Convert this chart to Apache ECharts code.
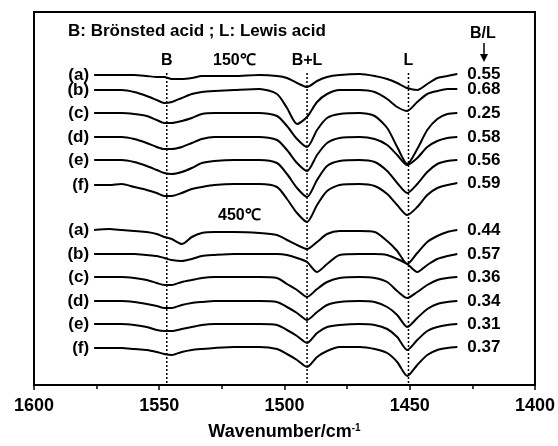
<!DOCTYPE html>
<html>
<head>
<meta charset="utf-8">
<script src="https://cdn.jsdelivr.net/npm/echarts@6/dist/echarts.min.js"></script>
<style>
html, body { margin: 0; padding: 0; background: #fff; }
#chart { width: 558px; height: 446px; }
</style>
</head>
<body>
<div id="chart"></div>
<script>
// wavenumber points (cm-1)
const wavenumbers = [1576, 1570, 1565, 1560, 1555, 1551, 1548, 1545, 1541, 1537, 1533, 1528, 1520, 1510, 1503, 1499, 1495, 1491, 1487, 1483, 1478, 1470, 1464, 1459, 1455, 1451, 1447, 1443, 1439, 1435, 1431]
const sampleNames = ['(a)', '(b)', '(c)', '(d)', '(e)', '(f)']

// vertical offsets of the stacked spectra (a.u.)
const offsets150 = [310, 295, 272, 248, 225, 201]
const offsets450 = [155, 131, 108, 84, 61, 37]

// B/L ratios printed at the right end
const ratio150 = ['0.55', '0.68', '0.25', '0.58', '0.56', '0.59']
const ratio450 = ['0.44', '0.57', '0.36', '0.34', '0.31', '0.37']

// band depth below each baseline, 150 ℃
const dip150a = [0, 0, 0, 0, 1, 2, 2, 4, 4, 3, 1, 1, 1, 0, 1, 3, 8, 12, 6, 2, 0, -1, 1, 4, 8, 13, 15, 9, 3, 1, -1]
const dip150b = [0, 0, 0, 2, 6, 10, 13, 12, 8, 4, 2, 1, 0, -1, 4, 18, 34, 27, 12, 4, 0, 0, 2, 9, 17, 21, 12, 4, 1, -1, -1]
const dip150c = [0, 0, 0, 1, 3, 7, 10, 10, 8, 5, 1, 0, 0, 0, 3, 13, 26, 34, 17, 5, 1, 0, 3, 15, 34, 51, 36, 17, 6, 1, 0]
const dip150d = [0, 0, 0, 2, 6, 10, 12, 12, 10, 6, 2, 0, 0, 0, 3, 13, 26, 34, 18, 6, 1, 0, 2, 8, 18, 28, 21, 10, 4, 1, 0]
const dip150e = [0, 0, 0, 2, 6, 10, 13, 14, 12, 8, 3, 1, 0, 0, 3, 14, 28, 37, 20, 6, 1, 0, 2, 11, 23, 33, 24, 12, 4, 1, 0]
const dip150f = [1, 1, 0, 3, 6, 9, 12, 12, 9, 5, 3, 1, 0, 0, 3, 15, 29, 38, 21, 7, 1, 0, 2, 10, 21, 31, 23, 11, 4, 1, -1]

// band depth below each baseline, 450 ℃
const dip450a = [0, -1, 0, 1, 2, 4, 7, 9, 14, 7, 3, 2, 2, 3, 5, 10, 15, 19, 12, 4, 1, 1, 2, 11, 21, 34, 23, 12, 6, 2, 0]
const dip450b = [0, 0, 0, 0, 1, 2, 4, 6, 7, 5, 2, 1, 0, 0, 0, 1, 4, 8, 18, 10, 1, 0, 0, 1, 5, 10, 18, 11, 5, 2, 0]
const dip450c = [0, 0, 0, 1, 3, 6, 8, 8, 5, 3, 1, 0, 0, 0, 1, 7, 13, 20, 12, 5, 1, 0, 1, 5, 14, 21, 15, 8, 3, 1, 0]
const dip450d = [0, 0, 0, 1, 3, 5, 7, 7, 4, 2, 1, 0, 0, 0, 1, 6, 12, 19, 11, 4, 1, 0, 1, 6, 14, 26, 17, 8, 3, 1, 0]
const dip450e = [0, 0, 0, 1, 3, 6, 7, 7, 5, 3, 1, 0, 0, 0, 1, 6, 12, 19, 9, 3, 1, 0, 1, 5, 13, 26, 16, 7, 3, 1, 0]
const dip450f = [0, 0, 0, 1, 2, 4, 6, 7, 4, 2, 1, 0, -1, -1, 1, 6, 12, 19, 9, 3, -1, -1, 1, 5, 14, 28, 17, 7, 2, 0, -1]

// band marker lines
const bandPositions = [1547, 1491, 1450.5]
const bandNames = ['B', 'B+L', 'L']
const bandTop = 312

const dips150 = [dip150a, dip150b, dip150c, dip150d, dip150e, dip150f]
const dips450 = [dip450a, dip450b, dip450c, dip450d, dip450e, dip450f]

const font = 'Liberation Sans, Arial, sans-serif'
const labelStyle = { color: '#000', fontSize: 17, fontWeight: 'bold', fontFamily: font }

function spectrum(name, offset, dips, ratio) {
  const data = wavenumbers.map((w, i) => [w, offset - dips[i]])
  const last = data.length - 1
  // sample name on the left end, B/L ratio on the right end
  data[0] = { value: data[0], label: Object.assign({ show: true, position: 'left', distance: 5, formatter: name }, labelStyle) }
  data[last] = { value: data[last], label: Object.assign({ show: true, position: 'right', distance: 10, formatter: ratio }, labelStyle) }
  return {
    type: 'line',
    data: data,
    smooth: 0.25,
    symbol: 'circle',
    symbolSize: 0,
    showSymbol: true,
    lineStyle: { color: '#000', width: 2 },
    itemStyle: { color: '#000' },
    silent: true,
    z: 3
  }
}

const series = []
sampleNames.forEach((n, i) => series.push(spectrum(n, offsets150[i], dips150[i], ratio150[i])))
sampleNames.forEach((n, i) => series.push(spectrum(n, offsets450[i], dips450[i], ratio450[i])))

bandPositions.forEach((w, i) => {
  series.push({
    type: 'line',
    data: [
      { value: [w, bandTop], label: { show: true, position: 'top', distance: 4, formatter: bandNames[i], color: '#000', fontSize: 16, fontWeight: 'bold', fontFamily: font } },
      [w, 0]
    ],
    symbol: 'circle',
    symbolSize: 0,
    lineStyle: { color: '#000', width: 1.5, type: [2, 2] },
    itemStyle: { color: '#000' },
    silent: true,
    z: 2
  })
})

const chart = echarts.init(document.getElementById('chart'))

chart.setOption({
  animation: false,
  grid: { left: 34, right: 21, top: 12, bottom: 61, show: true, borderColor: '#000', borderWidth: 2 },
  xAxis: {
    type: 'value',
    min: 1400,
    max: 1600,
    interval: 50,
    inverse: true,
    axisLine: { lineStyle: { color: '#000', width: 2 } },
    axisTick: { length: 5, lineStyle: { color: '#000', width: 1.5 } },
    minorTick: { show: true, splitNumber: 2, length: 4, lineStyle: { color: '#000', width: 1.5 } },
    splitLine: { show: false },
    axisLabel: { color: '#000', fontSize: 18, fontWeight: 'bold', fontFamily: font, margin: 12, formatter: (v) => String(v) },
    name: 'Wavenumber/cm{sup|-1}',
    nameLocation: 'middle',
    nameGap: 38,
    nameTextStyle: {
      color: '#000', fontSize: 18, fontWeight: 'bold', fontFamily: font,
      rich: { sup: { fontSize: 10, fontWeight: 'bold', verticalAlign: 'top', color: '#000', fontFamily: font } }
    }
  },
  yAxis: {
    type: 'value',
    min: 0,
    max: 373,
    axisLine: { show: true, lineStyle: { color: '#000', width: 2 } },
    axisTick: { show: false },
    axisLabel: { show: false },
    splitLine: { show: false }
  },
  graphic: [
    { type: 'text', left: 68, top: 23, style: { text: 'B: Brönsted acid ; L: Lewis acid', font: 'bold 17px ' + font, fill: '#000' } },
    { type: 'text', left: 213, top: 53, style: { text: '150℃', font: 'bold 16px ' + font, fill: '#000' } },
    { type: 'text', left: 218, top: 208, style: { text: '450℃', font: 'bold 16px ' + font, fill: '#000' } },
    { type: 'text', left: 470, top: 26, style: { text: 'B/L', font: 'bold 16px ' + font, fill: '#000' } },
    { type: 'line', shape: { x1: 484, y1: 43, x2: 484, y2: 56 }, style: { stroke: '#000', lineWidth: 1.5 } },
    { type: 'polygon', shape: { points: [[480, 54], [488, 54], [484, 62]] }, style: { fill: '#000' } }
  ],
  series: series
})

window.addEventListener('resize', () => {
  chart.resize()
})
</script>
</body>
</html>
